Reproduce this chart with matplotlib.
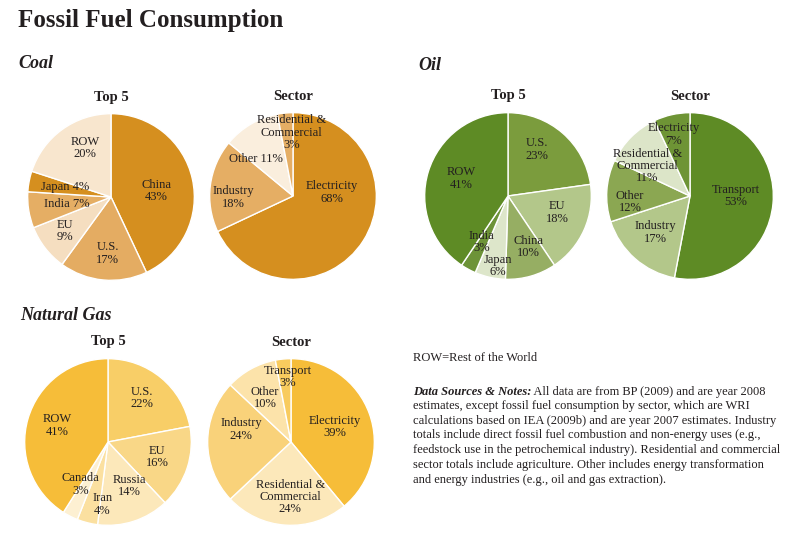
import matplotlib
matplotlib.use("Agg")
import matplotlib.pyplot as plt

plt.rcParams['font.family'] = ['Liberation Serif', 'DejaVu Serif']

TXT = "#231f20"

# ---- data ----
coal_top5_labels = ["China", "U.S.", "EU", "India", "Japan", "ROW"]
coal_top5_values = [43, 17, 9, 7, 4, 20]
coal_sector_labels = ["Electricity", "Industry", "Other", "Residential &\nCommercial"]
coal_sector_values = [68, 18, 11, 3]

oil_top5_labels = ["U.S.", "EU", "China", "Japan", "India", "ROW"]
oil_top5_values = [23, 18, 10, 6, 3, 41]
oil_sector_labels = ["Transport", "Industry", "Other", "Residential &\nCommercial", "Electricity"]
oil_sector_values = [53, 17, 12, 11, 7]

gas_top5_labels = ["U.S.", "EU", "Russia", "Iran", "Canada", "ROW"]
gas_top5_values = [22, 16, 14, 4, 3, 41]
gas_sector_labels = ["Electricity", "Residential &\nCommercial", "Industry", "Other", "Transport"]
gas_sector_values = [39, 24, 24, 10, 3]

# ---- styles ----
coal_top5_colors = ["#d58f1f", "#e4ac62", "#f5dec0", "#e5ae64", "#d58f1f", "#f8e6ce"]
coal_sector_colors = ["#d58f1f", "#e5ae64", "#faeedd", "#e5ae64"]
oil_top5_colors = ["#7b9c3d", "#b3c78a", "#96ae63", "#dde6ca", "#6d9338", "#5e8b25"]
oil_sector_colors = ["#5e8b25", "#b3c78a", "#8ba752", "#dce5c8", "#6e9435"]
gas_top5_colors = ["#f8ce67", "#f9d787", "#fce8ba", "#fbe0a0", "#fdf0d2", "#f6bd39"]
gas_sector_colors = ["#f6bd39", "#fce8ba", "#f9d27a", "#fce3aa", "#f8cb5e"]

# label placement (offsets in pie radii), and whether label is on one line
coal_top5_pos = [(0.54, 0.07), (-0.04, -0.68), (-0.55, -0.41), (-0.53, -0.09), (-0.55, 0.12), (-0.31, 0.59)]
coal_top5_inline = [False, False, False, True, True, False]
coal_sector_pos = [(0.47, 0.04), (-0.71, -0.02), (-0.45, 0.45), (-0.02, 0.76)]
coal_sector_inline = [False, False, True, False]
oil_top5_pos = [(0.35, 0.56), (0.59, -0.20), (0.24, -0.61), (-0.12, -0.84), (-0.32, -0.55), (-0.56, 0.21)]
oil_sector_pos = [(0.55, 0.0), (-0.41, -0.44), (-0.72, -0.07), (-0.51, 0.36), (-0.20, 0.74)]
gas_top5_pos = [(0.41, 0.53), (0.59, -0.18), (0.26, -0.53), (-0.07, -0.75), (-0.33, -0.51), (-0.61, 0.20)]
gas_sector_pos = [(0.52, 0.18), (-0.01, -0.66), (-0.60, 0.15), (-0.31, 0.53), (-0.04, 0.78)]

W, H = 800, 536
fig = plt.figure(figsize=(W / 100, H / 100), dpi=100)


def fx(x):
    return x / W


def fy(y):
    return 1 - y / H


def draw_pie(cx, cy, r, values, labels, colors, pos, inline=None, title=""):
    ax = fig.add_axes([fx(cx - r), fy(cy + r), 2 * r / W, 2 * r / H])
    ax.pie(values, colors=colors, startangle=90, counterclock=False, radius=1,
           wedgeprops=dict(edgecolor="white", linewidth=1.0))
    ax.set_xlim(-1.02, 1.02)
    ax.set_ylim(-1.02, 1.02)
    ax.set_aspect("equal")
    ax.axis("off")
    for i, (lab, v) in enumerate(zip(labels, values)):
        sep = " " if (inline and inline[i]) else "\n"
        ax.text(pos[i][0], pos[i][1], "{}{}{}%".format(lab, sep, v), ha="center", va="center",
                fontsize=9, color=TXT, linespacing=1.05, clip_on=False)
    fig.text(fx(cx), fy(cy - r - 15), title, ha="center", va="center",
             fontsize=10.5, fontweight="bold", color=TXT)


R = 85
draw_pie(111, 197, R, coal_top5_values, coal_top5_labels, coal_top5_colors, coal_top5_pos,
         coal_top5_inline, "Top 5")
draw_pie(293, 196, R, coal_sector_values, coal_sector_labels, coal_sector_colors, coal_sector_pos,
         coal_sector_inline, "Sector")
draw_pie(508, 196, R, oil_top5_values, oil_top5_labels, oil_top5_colors, oil_top5_pos, None, "Top 5")
draw_pie(690, 196, R, oil_sector_values, oil_sector_labels, oil_sector_colors, oil_sector_pos, None, "Sector")
draw_pie(108, 442, R, gas_top5_values, gas_top5_labels, gas_top5_colors, gas_top5_pos, None, "Top 5")
draw_pie(291, 442, R, gas_sector_values, gas_sector_labels, gas_sector_colors, gas_sector_pos, None, "Sector")

# titles
fig.text(fx(18), fy(21), "Fossil Fuel Consumption", ha="left", va="center",
         fontsize=18, fontweight="bold", color=TXT)
for x, y, s in [(18, 64, "Coal"), (418, 66, "Oil"), (20, 316, "Natural Gas")]:
    fig.text(fx(x), fy(y), s, ha="left", va="center", fontsize=13,
             fontweight="bold", fontstyle="italic", color=TXT)

# notes
fig.text(fx(413), fy(358), "ROW=Rest of the World", ha="left", va="center", fontsize=9, color=TXT)
head = fig.text(fx(413), fy(392), "Data Sources & Notes:", ha="left", va="center", fontsize=9,
                fontweight="bold", fontstyle="italic", color=TXT)
fig.canvas.draw()
bb = head.get_window_extent()
fig.text(bb.x1 / W, fy(392), " All data are from BP (2009) and are year 2008", ha="left",
         va="center", fontsize=9, color=TXT)
notes = ("estimates, except fossil fuel consumption by sector, which are WRI\n"
         "calculations based on IEA (2009b) and are year 2007 estimates. Industry\n"
         "totals include direct fossil fuel combustion and non-energy uses (e.g.,\n"
         "feedstock use in the petrochemical industry). Residential and commercial\n"
         "sector totals include agriculture. Other includes energy transformation\n"
         "and energy industries (e.g., oil and gas extraction).")
fig.text(fx(413), fy(400), notes, ha="left", va="top", fontsize=9, color=TXT, linespacing=1.3)

fig.savefig("out.png", dpi=100)
